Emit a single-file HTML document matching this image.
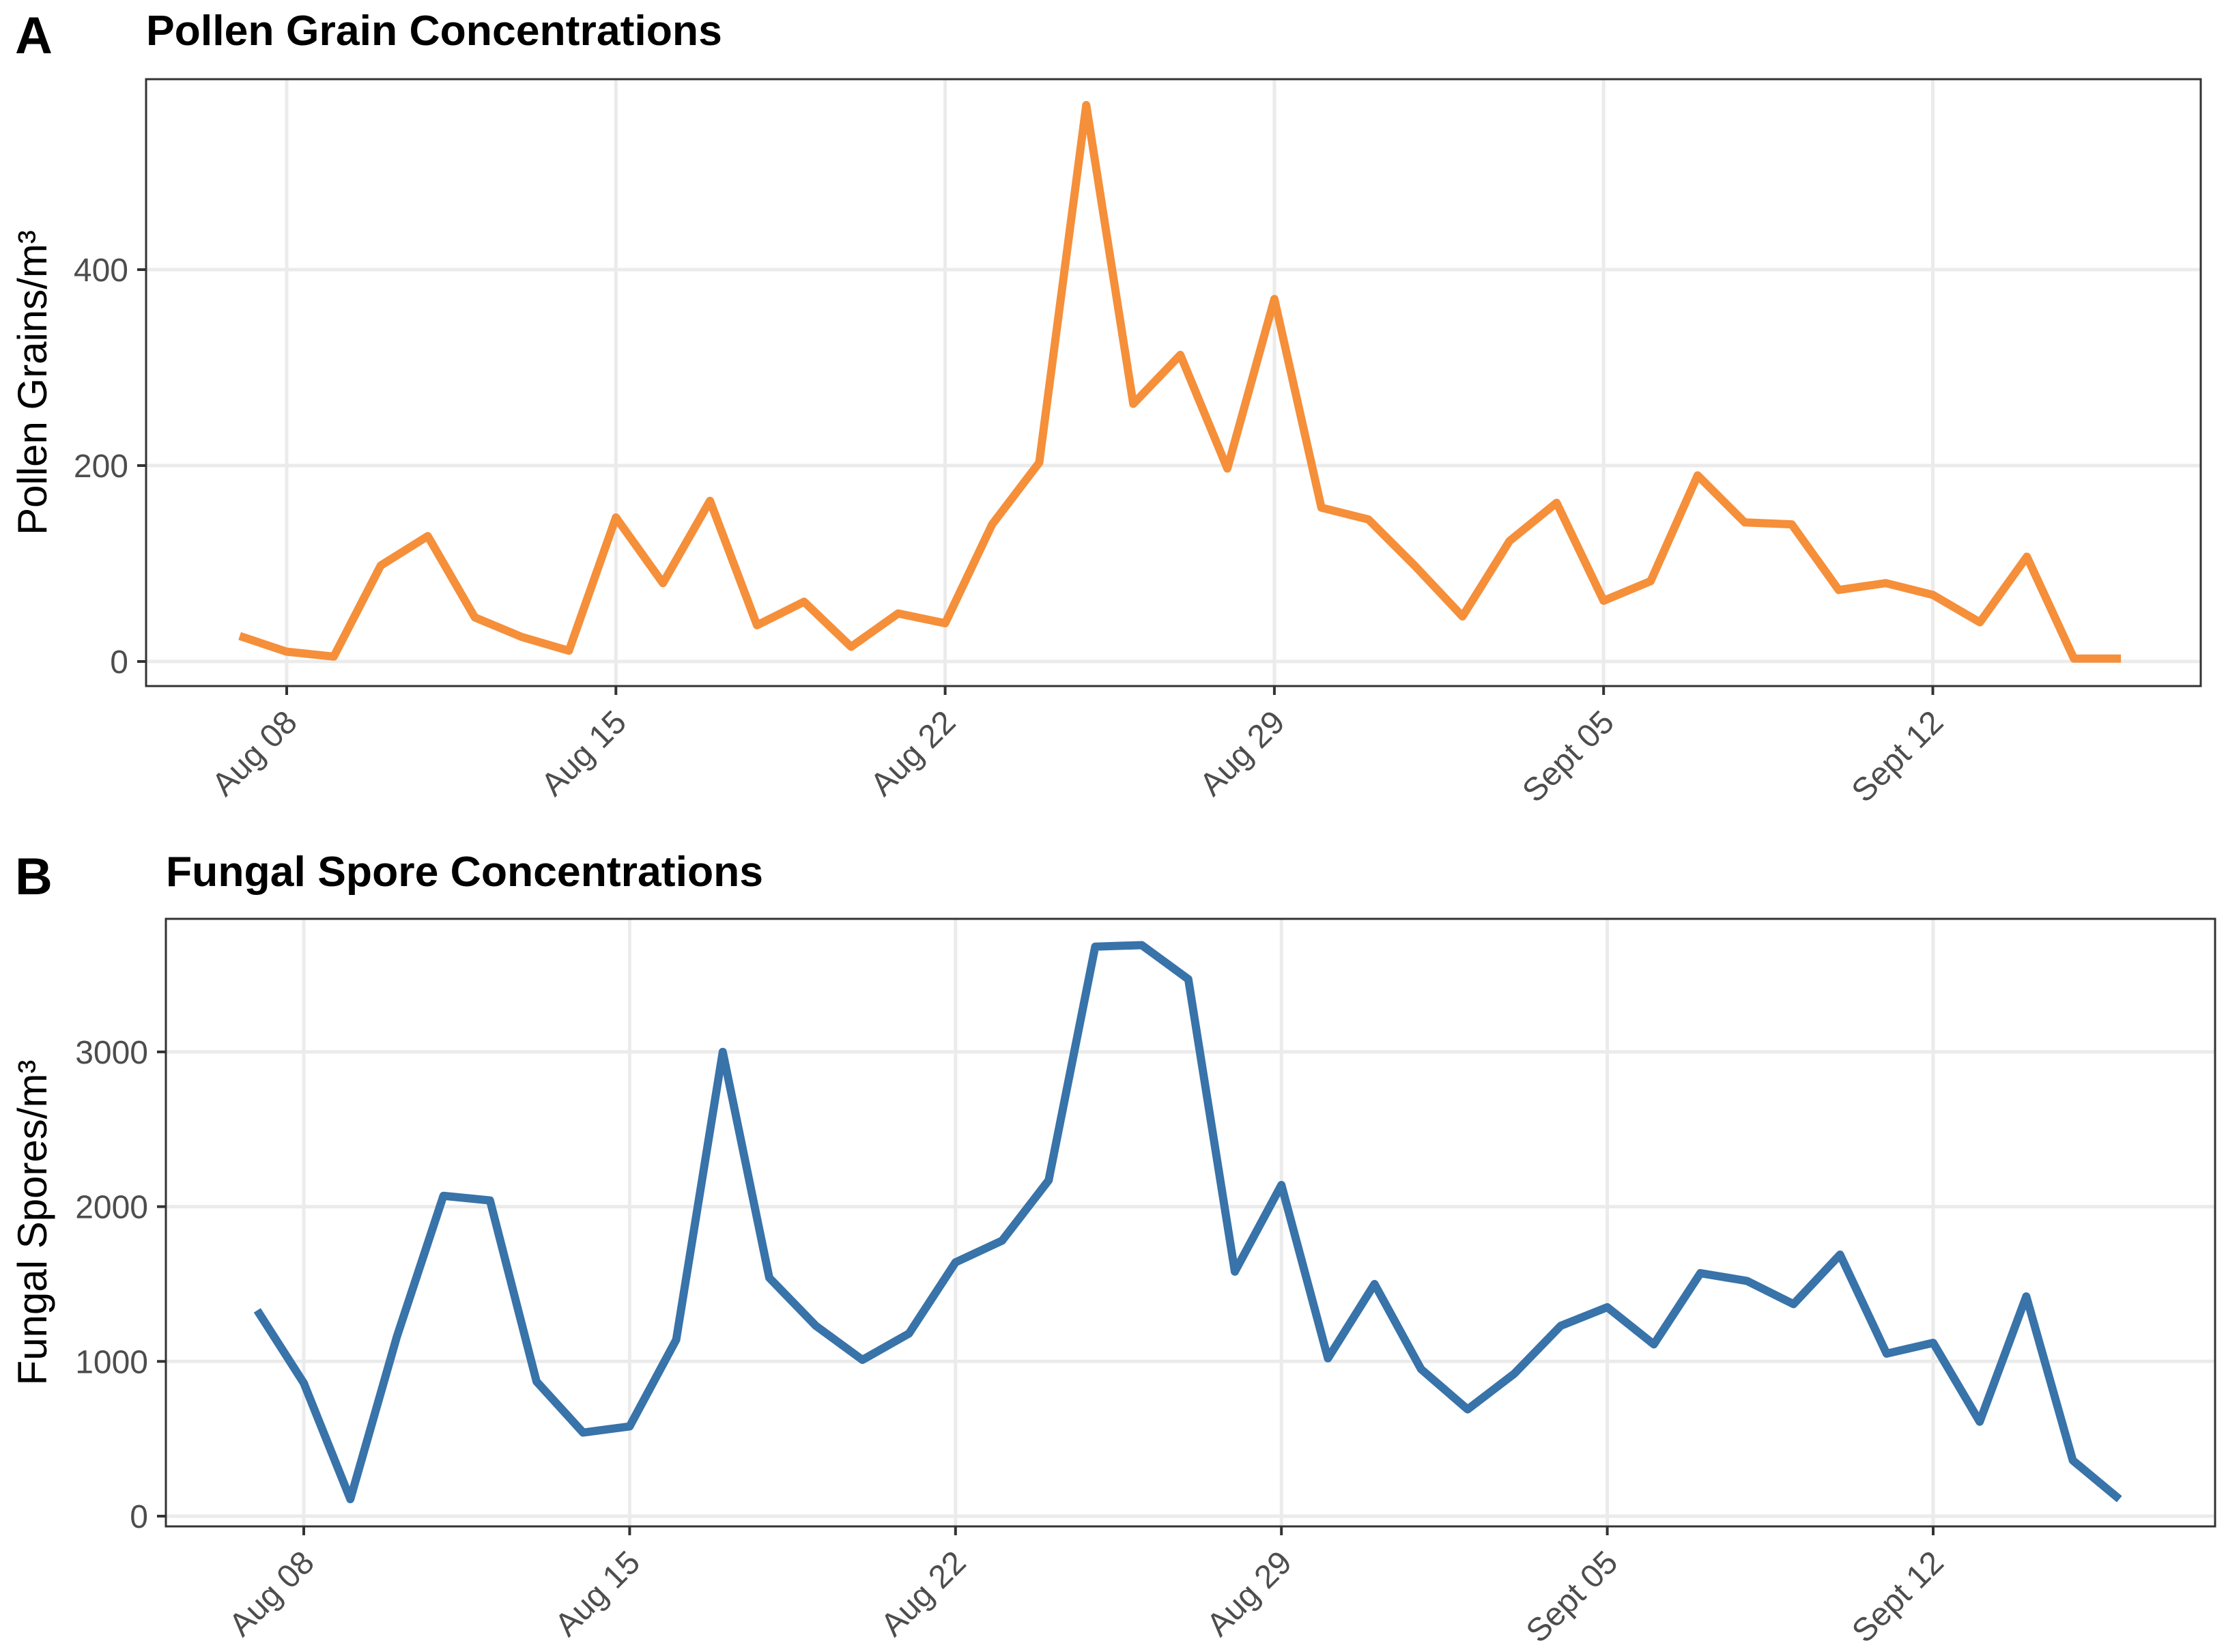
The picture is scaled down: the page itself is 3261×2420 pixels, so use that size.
<!DOCTYPE html>
<html><head><meta charset="utf-8"><style>
html,body{margin:0;padding:0;background:#fff;}
svg{display:block;font-family:"Liberation Sans",Arial,sans-serif;}
</style></head><body>
<svg id="c" width="3261" height="2420" viewBox="0 0 3261 2420" xmlns="http://www.w3.org/2000/svg"></svg>
<script>
const days = ["Aug 07","Aug 08","Aug 09","Aug 10","Aug 11","Aug 12","Aug 13","Aug 14","Aug 15","Aug 16","Aug 17","Aug 18","Aug 19","Aug 20","Aug 21","Aug 22","Aug 23","Aug 24","Aug 25","Aug 26","Aug 27","Aug 28","Aug 29","Aug 30","Aug 31","Sep 01","Sep 02","Sep 03","Sep 04","Sep 05","Sep 06","Sep 07","Sep 08","Sep 09","Sep 10","Sep 11","Sep 12","Sep 13","Sep 14","Sep 15","Sep 16"];
const pollen = [26,10,5,98,128,45,25,11,147,80,164,37,61,15,49,39,140,203,568,263,313,197,370,157,145,97,46,123,162,62,82,190,142,140,73,80,68,40,107,3,3];
const fungal = [1330,860,110,1160,2070,2040,870,540,580,1140,3000,1540,1230,1010,1180,1640,1780,2170,3680,3690,3470,1580,2140,1020,1500,950,690,920,1230,1350,1110,1570,1520,1370,1690,1050,1120,610,1420,360,110];
const xTickIdx = [1,8,15,22,29,36];
const xTickLabels = ["Aug 08","Aug 15","Aug 22","Aug 29","Sept 05","Sept 12"];
const pollenTicks = [0,200,400];
const fungalTicks = [0,1000,2000,3000];

const svg = document.getElementById('c');
const NS = 'http://www.w3.org/2000/svg';
function mk(tag, attrs, text){
  const e = document.createElementNS(NS, tag);
  for (const k in attrs) e.setAttribute(k, attrs[k]);
  if (text !== undefined) e.textContent = text;
  svg.appendChild(e);
  return e;
}

function panel(cfg){
  const {left,right,top,bottom,x0,dx,y0,dy,values,ticks,color,letter,letterY,title,titleX,titleY,ytitle,ytitleX,key} = cfg;
  const X = i => x0 + (i-1)*dx;
  const Y = v => y0 - v*dy;
  let e;
  for (const t of ticks){
    e = mk('line',{x1:left,x2:right,y1:Y(t),y2:Y(t),stroke:'#ebebeb','stroke-width':5});
    
    
  }
  xTickIdx.forEach((ix,k)=>{
    e = mk('line',{x1:X(ix),x2:X(ix),y1:top,y2:bottom,stroke:'#ebebeb','stroke-width':5});
    
    
  });
  const pts = values.map((v,i)=>X(i)+','+Y(v)).join(' ');
  e = mk('polyline',{points:pts,fill:'none',stroke:color,'stroke-width':12,'stroke-linejoin':'round','stroke-linecap':'butt'});
  
  
  e = mk('rect',{x:left,y:top,width:right-left,height:bottom-top,fill:'none',stroke:'#333','stroke-width':3});
  
  
  for (const t of ticks){
    e = mk('line',{x1:left-13,x2:left,y1:Y(t),y2:Y(t),stroke:'#333','stroke-width':4});
    
    
    e = mk('text',{x:left-26,y:Y(t)+17,'text-anchor':'end','font-size':48,fill:'#4d4d4d'},String(t));
    
    
  }
  xTickIdx.forEach((ix,k)=>{
    e = mk('line',{x1:X(ix),x2:X(ix),y1:bottom,y2:bottom+13,stroke:'#333','stroke-width':4});
    
    
    const tx = X(ix)+18, ty = bottom+56;
    e = mk('text',{x:tx,y:ty,'text-anchor':'end','font-size':48,fill:'#4d4d4d',transform:'rotate(-45 '+tx+' '+ty+')'},xTickLabels[k]);
    
    
  });
  e = mk('text',{x:22,y:letterY,'font-size':76,'font-weight':'bold',fill:'#000'},letter);
  
  
  e = mk('text',{x:titleX,y:titleY,'font-size':62.5,'font-weight':'bold',fill:'#000'},title);
  
  
  const cy = (top+bottom)/2;
  e = mk('text',{x:ytitleX,y:cy,'text-anchor':'middle','font-size':60,fill:'#000',transform:'rotate(-90 '+ytitleX+' '+cy+')'},ytitle);
  
  
}

panel({key:'pollen',left:214,right:3224,top:116,bottom:1005,x0:420,dx:68.9,y0:969,dy:287/200,
  values:pollen,ticks:pollenTicks,color:'#f58f3a',letter:'A',letterY:78,title:'Pollen Grain Concentrations',
  titleX:214,titleY:66,ytitle:'Pollen Grains/m³',ytitleX:68});
panel({key:'fungal',left:243,right:3245,top:1346,bottom:2236,x0:445,dx:68.2,y0:2221,dy:226.7/1000,
  values:fungal,ticks:fungalTicks,color:'#3873a9',letter:'B',letterY:1310,title:'Fungal Spore Concentrations',
  titleX:243,titleY:1298,ytitle:'Fungal Spores/m³',ytitleX:68});
</script>
</body></html>
